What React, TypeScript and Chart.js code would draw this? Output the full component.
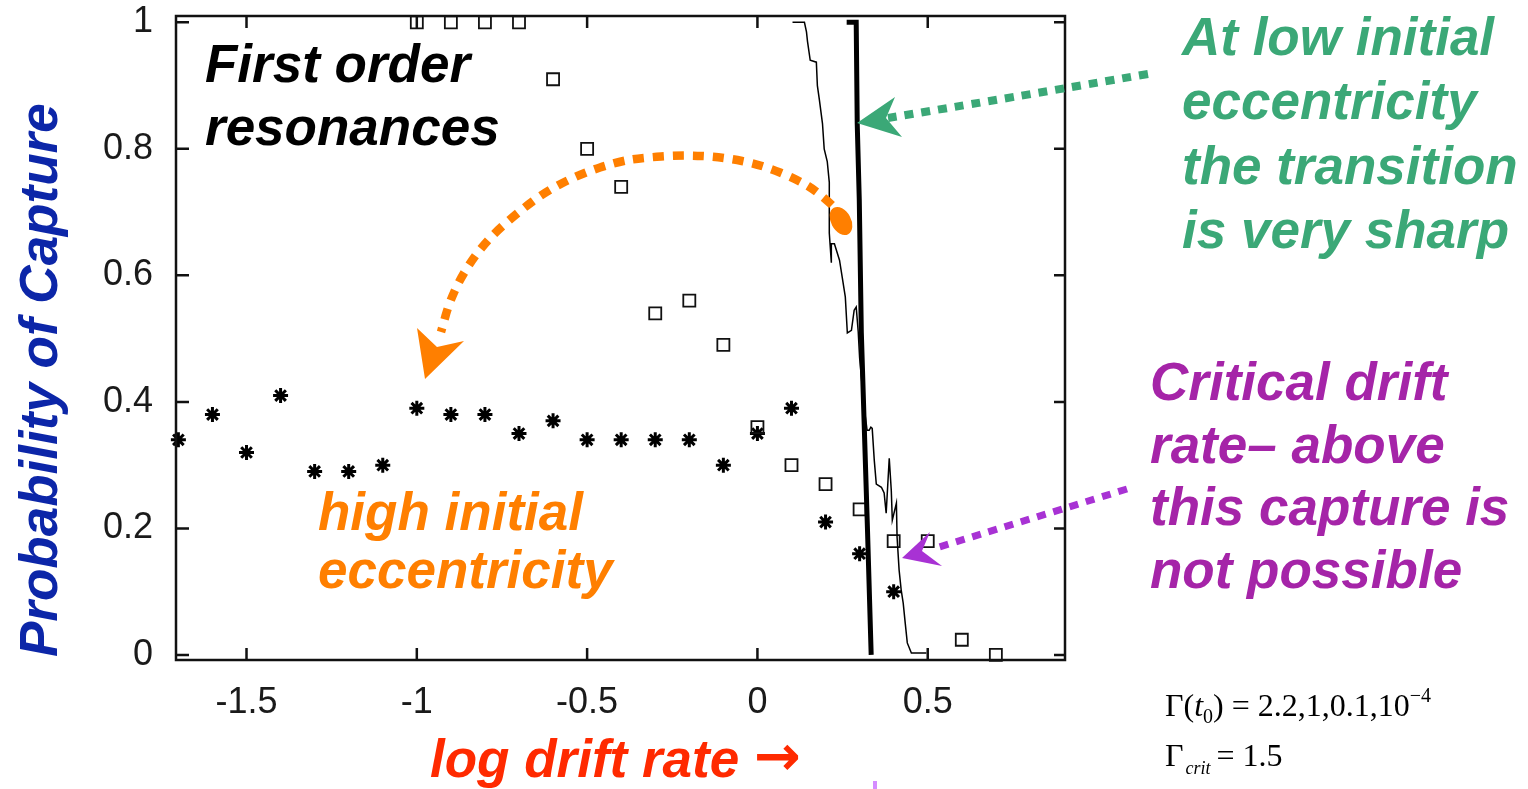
import React, { useEffect, useRef } from "react";
import { Chart, registerables } from "chart.js";

Chart.register(...registerables);

// ---------- data ----------
const xTickValues = [-1.5, -1, -0.5, 0, 0.5];
const yTickValues = [0, 0.2, 0.4, 0.6, 0.8, 1];

// high initial eccentricity (asterisks)
const starX = [-1.7, -1.6, -1.5, -1.4, -1.3, -1.2, -1.1, -1.0, -0.9, -0.8, -0.7, -0.6, -0.5, -0.4, -0.3, -0.2, -0.1, 0, 0.1, 0.2, 0.3, 0.4];
const starY = [0.34, 0.38, 0.32, 0.41, 0.29, 0.29, 0.30, 0.39, 0.38, 0.38, 0.35, 0.37, 0.34, 0.34, 0.34, 0.34, 0.30, 0.35, 0.39, 0.21, 0.16, 0.10];

// intermediate eccentricity (open squares)
const squareX = [-1.0, -0.9, -0.8, -0.7, -0.6, -0.5, -0.4, -0.3, -0.2, -0.1, 0, 0.1, 0.2, 0.3, 0.4, 0.5, 0.6, 0.7];
const squareY = [1.0, 1.0, 1.0, 1.0, 0.91, 0.80, 0.74, 0.54, 0.56, 0.49, 0.36, 0.30, 0.27, 0.23, 0.18, 0.18, 0.024, 0.0];

// thin curve
const thinX = [0.103, 0.138, 0.144, 0.147, 0.155, 0.173, 0.176, 0.182, 0.191, 0.196, 0.205, 0.211, 0.211, 0.217, 0.217, 0.226, 0.241, 0.249, 0.258, 0.264, 0.276, 0.284, 0.29, 0.296, 0.30, 0.305, 0.31, 0.316, 0.322, 0.328, 0.333, 0.337, 0.343, 0.349, 0.364, 0.372, 0.378, 0.387, 0.393, 0.396, 0.408, 0.41, 0.416, 0.422, 0.428, 0.434, 0.44, 0.452, 0.496];
const thinY = [1.0, 1.0, 0.985, 0.97, 0.94, 0.937, 0.90, 0.877, 0.84, 0.80, 0.78, 0.747, 0.667, 0.62, 0.65, 0.65, 0.624, 0.597, 0.566, 0.509, 0.513, 0.545, 0.55, 0.51, 0.47, 0.44, 0.41, 0.38, 0.355, 0.355, 0.36, 0.358, 0.308, 0.27, 0.265, 0.256, 0.224, 0.311, 0.26, 0.213, 0.24, 0.186, 0.134, 0.103, 0.082, 0.05, 0.019, 0.003, 0.003];

// thick curve (low initial eccentricity)
const thickX = [0.262, 0.29, 0.293, 0.299, 0.305, 0.314, 0.323, 0.334];
const thickY = [1.0, 1.0, 0.84, 0.72, 0.51, 0.355, 0.20, 0.0];

const zip = (xs: number[], ys: number[]) => xs.map((x, i) => ({ x, y: ys[i] }));

// ---------- annotation drawing helpers ----------
const BI = (size: number) => `italic bold ${size}px 'Liberation Sans', Arial, sans-serif`;

function smoothDashed(ctx: CanvasRenderingContext2D, pts: number[][], color: string, width: number, dash: number[]) {
  ctx.save();
  ctx.strokeStyle = color;
  ctx.lineWidth = width;
  ctx.setLineDash(dash);
  ctx.lineCap = "butt";
  ctx.beginPath();
  ctx.moveTo(pts[0][0], pts[0][1]);
  for (let i = 1; i < pts.length - 1; i++) {
    const mx = (pts[i][0] + pts[i + 1][0]) / 2;
    const my = (pts[i][1] + pts[i + 1][1]) / 2;
    ctx.quadraticCurveTo(pts[i][0], pts[i][1], mx, my);
  }
  const last = pts[pts.length - 1];
  ctx.lineTo(last[0], last[1]);
  ctx.stroke();
  ctx.restore();
}

function poly(ctx: CanvasRenderingContext2D, pts: number[][], color: string) {
  ctx.save();
  ctx.fillStyle = color;
  ctx.beginPath();
  ctx.moveTo(pts[0][0], pts[0][1]);
  for (let i = 1; i < pts.length; i++) ctx.lineTo(pts[i][0], pts[i][1]);
  ctx.closePath();
  ctx.fill();
  ctx.restore();
}

function lines(ctx: CanvasRenderingContext2D, text: string[], x: number, y0: number, dy: number, color: string, size: number) {
  ctx.save();
  ctx.font = BI(size);
  ctx.fillStyle = color;
  ctx.textAlign = "left";
  ctx.textBaseline = "alphabetic";
  text.forEach((t, i) => ctx.fillText(t, x, y0 + i * dy));
  ctx.restore();
}

const ORANGE = "#ff7f00";
const GREEN = "#3ba877";
const PURPLE_TEXT = "#a524a8";
const PURPLE_ARROW = "#a832d4";
const FS = 53;

const annotationPlugin = {
  id: "annotations",
  afterDraw(chart: any) {
    const ctx: CanvasRenderingContext2D = chart.ctx;
    const { left, top, right, bottom } = chart.chartArea;
    const xs = chart.scales.x;
    const ys = chart.scales.y;

    // frame
    ctx.save();
    ctx.strokeStyle = "#111";
    ctx.lineWidth = 2.5;
    ctx.strokeRect(left, top, right - left, bottom - top);
    // inward ticks (mirrored)
    ctx.beginPath();
    xTickValues.forEach((v) => {
      const px = xs.getPixelForValue(v);
      ctx.moveTo(px, bottom);
      ctx.lineTo(px, bottom - 12);
      ctx.moveTo(px, top);
      ctx.lineTo(px, top + 12);
    });
    yTickValues.forEach((v) => {
      const py = ys.getPixelForValue(v);
      ctx.moveTo(left, py);
      ctx.lineTo(left + 13, py);
      ctx.moveTo(right, py);
      ctx.lineTo(right - 11, py);
    });
    ctx.stroke();
    ctx.restore();

    // axis titles
    ctx.save();
    ctx.font = BI(FS);
    ctx.fillStyle = "#0c26a8";
    ctx.translate(57, 657);
    ctx.rotate(-Math.PI / 2);
    ctx.textAlign = "left";
    ctx.textBaseline = "alphabetic";
    ctx.fillText("Probability of Capture", 0, 0);
    ctx.restore();

    ctx.save();
    ctx.fillStyle = "#ff2a00";
    ctx.textAlign = "left";
    ctx.textBaseline = "alphabetic";
    ctx.font = BI(FS);
    const xt = "log drift rate ";
    ctx.fillText(xt, 430, 777);
    const w = ctx.measureText(xt).width;
    ctx.font = "bold 56px 'DejaVu Sans', sans-serif";
    ctx.fillText("\u2192", 430 + w, 775);
    ctx.restore();

    // texts
    lines(ctx, ["First order", "resonances"], 205, 82, 63, "#000", FS);
    lines(ctx, ["high initial", "eccentricity"], 318, 530, 58, ORANGE, FS);
    lines(ctx, ["At low initial", "eccentricity", "the transition", "is very sharp"], 1182, 55, 64.3, GREEN, FS);
    lines(ctx, ["Critical drift", "rate\u2013 above", "this capture is", "not possible"], 1150, 400, 62.7, PURPLE_TEXT, FS);

    // orange curved dotted arrow
    smoothDashed(
      ctx,
      [[832, 205], [818, 192], [798, 180], [762, 165], [722, 157], [682, 155], [640, 158], [617, 162], [583, 173], [548, 190], [517, 213], [487, 240], [465, 270], [450, 300], [441, 332]],
      ORANGE, 8.5, [11, 9]
    );
    poly(ctx, [[425, 379], [417, 328], [437, 347], [464, 341]], ORANGE);
    ctx.save();
    ctx.fillStyle = ORANGE;
    ctx.beginPath();
    ctx.ellipse(841, 221, 10, 15, -0.5, 0, Math.PI * 2);
    ctx.fill();
    ctx.restore();

    // green arrow
    smoothDashed(ctx, [[1148, 74], [1020, 96], [888, 118]], GREEN, 8, [9, 8]);
    poly(ctx, [[857, 123], [895, 97], [886, 118], [902, 137]], GREEN);

    // purple arrow
    smoothDashed(ctx, [[1127, 489], [1030, 519], [936, 548]], PURPLE_ARROW, 7, [9, 8]);
    poly(ctx, [[902, 558], [930, 532], [922, 551], [942, 566]], PURPLE_ARROW);

    // formula (bottom right)
    ctx.save();
    ctx.fillStyle = "#000";
    ctx.textBaseline = "alphabetic";
    const serif = (s: number, it = false) => `${it ? "italic " : ""}${s}px 'Liberation Serif', 'Times New Roman', serif`;
    let x = 1165;
    let y = 716;
    const put = (t: string, font: string, dy = 0) => {
      ctx.font = font;
      ctx.fillText(t, x, y + dy);
      x += ctx.measureText(t).width;
    };
    put("\u0393(", serif(32));
    put("t", serif(32, true));
    put("0", serif(20), 7);
    put(") = 2.2,1,0.1,10", serif(32));
    put("\u22124", serif(20), -14);
    x = 1165;
    y = 766;
    put("\u0393", serif(32));
    x += 2;
    put("crit", serif(18, true), 8);
    x += 6;
    put("= 1.5", serif(32));
    ctx.restore();

    // small magenta mark
    ctx.save();
    ctx.fillStyle = "#d58cff";
    ctx.fillRect(873, 781, 4, 8);
    ctx.restore();
  },
};

export default function App() {
  const ref = useRef<HTMLCanvasElement | null>(null);

  useEffect(() => {
    if (!ref.current) return;
    const chart = new Chart(ref.current, {
      type: "scatter",
      data: {
        datasets: [
          {
            label: "thin",
            data: zip(thinX, thinY),
            showLine: true,
            borderColor: "#000",
            borderWidth: 1.5,
            pointRadius: 0,
            tension: 0,
            clip: false,
          } as any,
          {
            label: "thick",
            data: zip(thickX, thickY),
            showLine: true,
            borderColor: "#000",
            borderWidth: 5,
            pointRadius: 0,
            tension: 0,
            clip: false,
          } as any,
          {
            label: "squares",
            data: zip(squareX, squareY),
            pointStyle: "rect",
            pointRadius: 8.5,
            borderColor: "#111",
            backgroundColor: "rgba(0,0,0,0)",
            borderWidth: 1.8,
            clip: false,
          } as any,
          {
            label: "stars",
            data: zip(starX, starY),
            pointStyle: "star",
            pointRadius: 7.5,
            borderColor: "#000",
            backgroundColor: "#000",
            borderWidth: 3,
            clip: false,
          } as any,
        ],
      },
      options: {
        animation: false,
        responsive: false,
        devicePixelRatio: 1,
        layout: { padding: { left: 0, top: 16, right: 463, bottom: 0 } },
        plugins: { legend: { display: false }, tooltip: { enabled: false } },
        scales: {
          x: {
            type: "linear",
            min: -1.707,
            max: 0.903,
            grid: { display: false },
            border: { display: false },
            ticks: {
              font: { family: "'Liberation Sans', Arial, sans-serif", size: 36 },
              color: "#1a1a1a",
              padding: 13,
              maxRotation: 0,
              callback: (v: any) => String(Math.round(Number(v) * 10) / 10),
            },
            afterBuildTicks: (s: any) => {
              s.ticks = xTickValues.map((value) => ({ value }));
            },
            afterFit: (s: any) => {
              s.height = 129;
              s.paddingLeft = 0;
              s.paddingRight = 0;
            },
          },
          y: {
            type: "linear",
            min: -0.008,
            max: 1.01,
            grid: { display: false },
            border: { display: false },
            ticks: {
              font: { family: "'Liberation Sans', Arial, sans-serif", size: 36 },
              color: "#1a1a1a",
              padding: 15,
              callback: (v: any) => String(Math.round(Number(v) * 10) / 10),
            },
            afterBuildTicks: (s: any) => {
              s.ticks = yTickValues.map((value) => ({ value }));
            },
            afterFit: (s: any) => {
              s.width = 176;
              s.paddingTop = 0;
              s.paddingBottom = 0;
            },
          },
        },
      } as any,
      plugins: [annotationPlugin],
    });
    return () => chart.destroy();
  }, []);

  return (
    <div style={{ position: "absolute", left: 0, top: 0, width: 1528, height: 789, background: "#fff" }}>
      <canvas ref={ref} width={1528} height={789} style={{ display: "block" }} />
    </div>
  );
}
